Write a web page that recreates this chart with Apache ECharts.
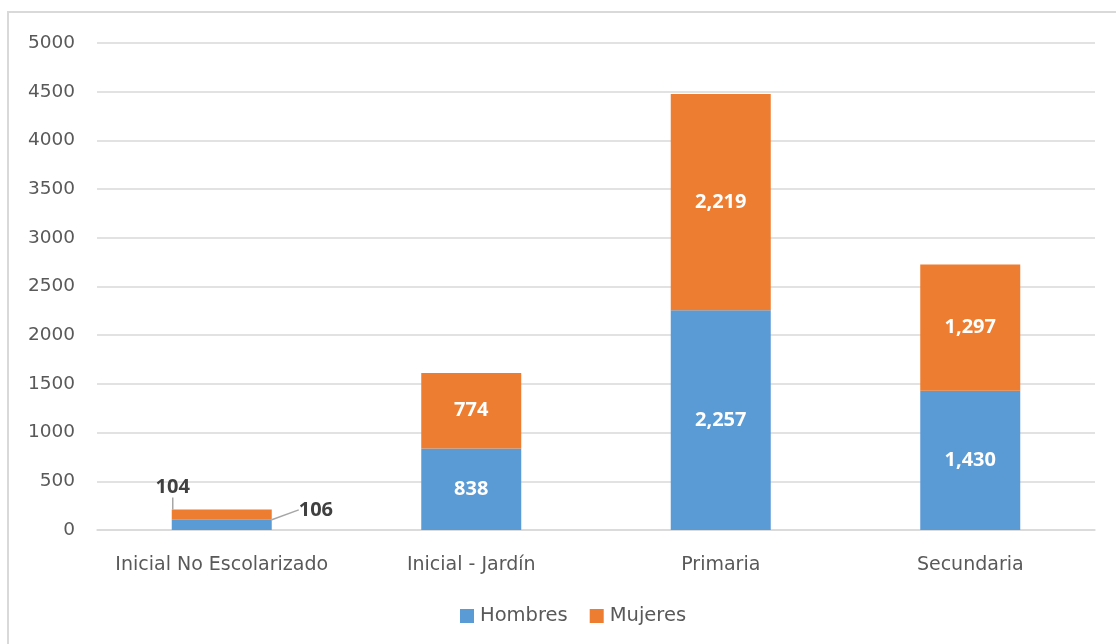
<!DOCTYPE html>
<html><head><meta charset="utf-8">
<script src="https://cdn.jsdelivr.net/npm/echarts@6/dist/echarts.min.js"></script>
<style>html,body{margin:0;padding:0;background:#fff;}#c{width:1116px;height:644px;}</style>
</head><body><div id="c"></div>
<script>
const categories = ['Inicial No Escolarizado', 'Inicial - Jardín', 'Primaria', 'Secundaria'];
const hombres = [106, 838, 2257, 1430];
const mujeres = [104, 774, 2219, 1297];
const seriesNames = ['Hombres', 'Mujeres'];

const fmt = v => v.toLocaleString('en-US');
const chart = echarts.init(document.getElementById('c'));
const insideLabel = {show: true, position: 'inside', color: '#fff', fontFamily: 'Open Sans', fontWeight: 'bold', fontSize: 20,
  formatter: p => fmt(p.value)};
const outsideLabelStyle = {color: '#404040', fontFamily: 'Open Sans', fontWeight: 'bold', fontSize: 20};

function buildData(arr, idx) {
  return arr.map((v, i) => {
    if (i !== 0) return v;
    return {
      value: v,
      label: Object.assign({show: true, position: idx === 0 ? 'right' : 'top', formatter: p => fmt(p.value)}, outsideLabelStyle),
      labelLine: {show: true, lineStyle: {color: '#a6a6a6', width: 1.5}}
    };
  });
}

chart.setOption({
  animation: false,
  textStyle: {fontFamily: 'DejaVu Sans'},
  graphic: [{type: 'rect', shape: {x: 8, y: 12, width: 1130, height: 660},
    style: {fill: 'none', stroke: '#d9d9d9', lineWidth: 2}, silent: true, z: -1}],
  grid: {left: 97, right: 21, top: 43, bottom: 114, containLabel: false},
  legend: {bottom: 13, left: 455, itemWidth: 14, itemHeight: 14, itemGap: 22,
    icon: 'rect', textStyle: {color: '#595959', fontSize: 19.5, fontFamily: 'DejaVu Sans', padding: [0, 0, 0, 1]},
    data: seriesNames},
  xAxis: {type: 'category', data: categories,
    axisLine: {show: true, lineStyle: {color: '#d9d9d9', width: 1.5}},
    axisTick: {show: false},
    axisLabel: {color: '#595959', fontSize: 19, margin: 26, interval: 0, fontFamily: 'DejaVu Sans'}},
  yAxis: {type: 'value', min: 0, max: 5000, interval: 500,
    axisLine: {show: false}, axisTick: {show: false},
    splitLine: {lineStyle: {color: '#d9d9d9', width: 1.5}},
    axisLabel: {color: '#595959', fontSize: 18.5, margin: 22, fontFamily: 'DejaVu Sans', formatter: v => String(v)}},
  series: [
    {name: seriesNames[0], type: 'bar', stack: 't', barWidth: 100, data: buildData(hombres, 0),
      itemStyle: {color: '#5B9BD5'}, label: insideLabel,
      labelLayout: p => p.dataIndex === 0 ? {dx: 22, dy: -15} : {}},
    {name: seriesNames[1], type: 'bar', stack: 't', barWidth: 100, data: buildData(mujeres, 1),
      itemStyle: {color: '#ED7D31'}, label: insideLabel,
      labelLayout: p => p.dataIndex === 0 ? {dx: -49, dy: -7} : {}}
  ]
});
</script></body></html>
